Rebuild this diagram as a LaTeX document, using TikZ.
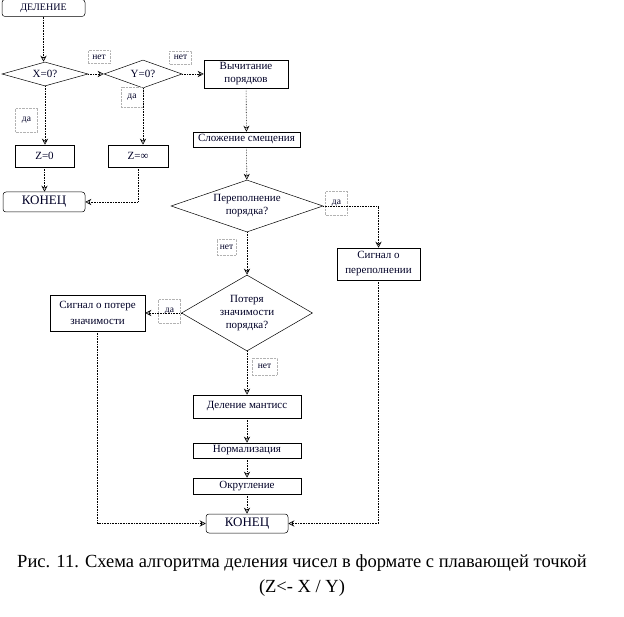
\documentclass[tikz,border=0pt]{standalone}
\usepackage{fontspec}
\setmainfont{Liberation Serif}
\usetikzlibrary{shapes.geometric,arrows.meta}
\begin{document}
\begin{tikzpicture}[x=1pt,y=-1pt,
  every node/.style={font=\fontsize{11}{13}\selectfont, inner sep=0pt, text=black!85!blue},
  term/.style={draw=black, rounded corners=3pt, line width=0.5pt},
  blk/.style={draw=black, line width=0.5pt, align=center},
  dec/.style={draw=black, diamond, line width=0.5pt, align=center},
  lbl/.style={draw=gray!60, densely dotted, font=\fontsize{9.5}{10}\selectfont, minimum width=22pt, minimum height=13pt},
  conn/.style={densely dotted, line width=0.6pt, -{Stealth[open,length=6pt,width=6pt]}}]
\useasboundingbox (0,0) rectangle (624,617);
% nodes
\node[term, minimum width=83pt, minimum height=17pt, font=\fontsize{10}{12}\selectfont] (del) at (43.5,8) {ДЕЛЕНИЕ};
\node[dec, minimum width=86pt, minimum height=24pt, aspect=3.5] (x0) at (45,74) {X=0?};
\node[dec, minimum width=78pt, minimum height=28pt, aspect=2.8] (y0) at (143,74) {Y=0?};
\node[blk, minimum width=84pt, minimum height=28pt] (sub) at (246,74) {Вычитание\\порядков};
\node[blk, minimum width=107pt, minimum height=15pt] (add) at (246.5,139.5) {Сложение смещения};
\node[blk, minimum width=59pt, minimum height=22pt] (z0) at (44.5,156) {Z=0};
\node[blk, minimum width=60pt, minimum height=22pt] (zi) at (138,156) {Z=∞};
\node[term, minimum width=82pt, minimum height=20pt, font=\fontsize{13}{15}\selectfont] (end1) at (44,202) {КОНЕЦ};
\node[dec, minimum width=152pt, minimum height=52pt, aspect=2.9] (ovf) at (247,206) {Переполнение\\порядка?};
\node[blk, minimum width=83pt, minimum height=32pt, font=\fontsize{11}{15}\selectfont] (sovf) at (378.5,264) {Сигнал о\\переполнении};
\node[dec, minimum width=131pt, minimum height=76pt, aspect=1.7] (unf) at (247,313) {Потеря\\значимости\\порядка?};
\node[blk, minimum width=95pt, minimum height=36pt, font=\fontsize{11}{16}\selectfont] (sunf) at (97.5,313) {Сигнал о потере\\значимости};
\node[blk, minimum width=108pt, minimum height=23pt] (divm) at (247,406.5) {Деление мантисс};
\node[blk, minimum width=108pt, minimum height=15pt] (norm) at (247,450.5) {Нормализация};
\node[blk, minimum width=108pt, minimum height=16pt] (rnd) at (247,486) {Округление};
\node[term, minimum width=82pt, minimum height=19pt, font=\fontsize{13}{15}\selectfont] (end2) at (247,523.5) {КОНЕЦ};
% labels
\node[lbl] (l1) at (99,57) {нет};
\node[lbl] (l2) at (180.5,57.5) {нет};
\node[lbl, minimum height=20pt] (l3) at (132,97) {да};
\node[lbl, minimum height=24pt] (l4) at (26.5,120) {да};
\node[lbl, minimum height=24pt] (l5) at (336.5,203.5) {да};
\node[lbl, minimum width=19pt, minimum height=16pt] (l6) at (226.5,247) {нет};
\node[lbl, minimum height=24pt] (l7) at (169.5,311) {да};
\node[lbl, minimum width=25pt, minimum height=17pt] (l8) at (264.5,366.5) {нет};
% caption
\node[font=\fontsize{18.5}{25}\selectfont, align=center, text=black] (cap) at (302,576) {Рис. 11. Схема алгоритма деления чисел в формате с плавающей точкой\\(Z<- X / Y)};
% connectors
\draw[conn] (del) -- (del |- x0.north);
\draw[conn] (x0) -- (y0);
\draw[conn] (y0) -- (sub);
\draw[conn] (x0.south) -- (x0.south |- z0.north);
\draw[conn] (y0.south) -- (y0.south |- zi.north);
\draw[conn] (z0.south) -- (z0.south |- end1.north);
\draw[conn] (zi.south) |- (end1.east);
\draw[conn] (sub) -- (add);
\draw[conn] (add) -- (ovf);
\draw[conn] (ovf.east) -| (sovf.north);
\draw[conn] (ovf) -- (unf);
\draw[conn] (unf.west) -- (sunf.east);
\draw[conn] (unf) -- (divm);
\draw[conn] (divm) -- (norm);
\draw[conn] (norm) -- (rnd);
\draw[conn] (rnd) -- (end2);
\draw[conn] (sunf.south) |- (end2.west);
\draw[conn] (sovf.south) |- (end2.east);
\end{tikzpicture}
\end{document}
